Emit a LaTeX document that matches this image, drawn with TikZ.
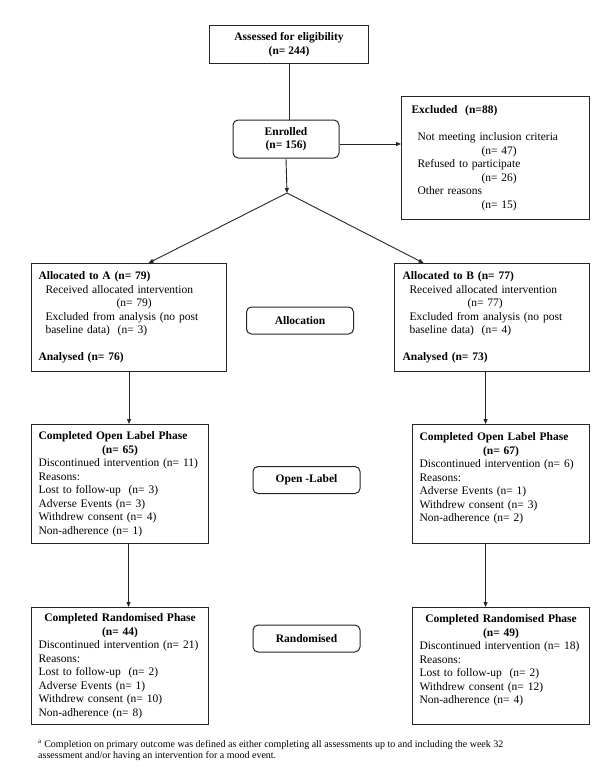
\documentclass[tikz,border=0pt]{standalone}
\usepackage{fontspec}
\setmainfont{Liberation Serif}
\usetikzlibrary{arrows.meta}
\colorlet{line}{black!85}

\begin{document}
\begin{tikzpicture}[x=1pt,y=-1pt,
    font=\fontsize{11.5}{13.5}\selectfont,
    box/.style={draw=line,line width=1.1pt,anchor=north west,inner ysep=0pt,align=left},
    phase/.style={draw=line,line width=1pt,rounded corners=5pt,minimum width=107pt,minimum height=27pt,font=\fontsize{11.5}{13.5}\selectfont\bfseries},
    arrow/.style={draw=line,line width=0.9pt,-{Triangle[length=5pt,width=4pt]}}]

\useasboundingbox [fill=white] (0,0) rectangle (600,776);

\node [box,align=center,inner xsep=0pt,minimum width=159pt,minimum height=38pt,font=\fontsize{11.5}{13.5}\selectfont\bfseries] (assess) at (209,25) {Assessed for eligibility\\(n= 244)};
\node [phase,minimum width=106pt,minimum height=38pt,align=center] (enrol) at (286,139) {Enrolled\\(n= 156)};
\node [box,inner xsep=10pt,text width=168pt,minimum height=123pt] (excl) at (401,96) {\textbf{Excluded~ (n=88)}\\[13.5pt]
    \hspace*{6pt}Not meeting inclusion criteria\\
    \hspace*{70pt}(n= 47)\\
    \hspace*{6pt}Refused to participate\\
    \hspace*{70pt}(n= 26)\\
    \hspace*{6pt}Other reasons\\
    \hspace*{70pt}(n= 15)};
\coordinate (split) at (287,193);

% allocation
\node [box,inner xsep=7pt,text width=181pt,minimum height=108pt] (allocA) at (31,263) {\textbf{Allocated to A (n= 79)}\\
    \hspace*{7pt}Received allocated intervention\\
    \hspace*{78pt}(n= 79)\\
    \hspace*{7pt}Excluded from analysis (no post\\
    \hspace*{7pt}baseline data)~ (n= 3)\\[13.5pt]
    \textbf{Analysed (n= 76)}};
\node [box,inner xsep=8pt,text width=179pt,minimum height=108pt] (allocB) at (394,263) {\textbf{Allocated to B (n= 77)}\\
    \hspace*{7pt}Received allocated intervention\\
    \hspace*{65pt}(n= 77)\\
    \hspace*{7pt}Excluded from analysis (no post\\
    \hspace*{7pt}baseline data)~ (n= 4)\\[13.5pt]
    \textbf{Analysed (n= 73)}};
\node [phase] (allocation) at (300,320.5) {Allocation};

% open label
\node [box,inner xsep=7pt,text width=163pt,minimum height=119pt] (openA) at (31,424) {\textbf{Completed Open Label Phase}\\
    \makebox[\linewidth]{\textbf{(n= 65)}}\\
    Discontinued intervention (n= 11)\\
    Reasons:\\
    Lost to follow-up~ (n= 3)\\
    Adverse Events (n= 3)\\
    Withdrew consent (n= 4)\\
    Non-adherence (n= 1)};
\node [box,inner xsep=7pt,text width=163pt,minimum height=119pt] (openB) at (412,424) {\textbf{Completed Open Label Phase}\\
    \makebox[\linewidth]{\textbf{(n= 67)}}\\
    Discontinued intervention (n= 6)\\
    Reasons:\\
    Adverse Events (n= 1)\\
    Withdrew consent (n= 3)\\
    Non-adherence (n= 2)\\
    \mbox{}};
\node [phase] (openlabel) at (306.5,480) {Open -Label};

% randomised
\node [box,inner xsep=7pt,text width=163pt,minimum height=117pt] (randA) at (31,607) {\makebox[\linewidth]{\textbf{Completed Randomised Phase}}\\
    \makebox[\linewidth]{\textbf{(n= 44)}}\\
    Discontinued intervention (n= 21)\\
    Reasons:\\
    Lost to follow-up~ (n= 2)\\
    Adverse Events (n= 1)\\
    Withdrew consent (n= 10)\\
    Non-adherence (n= 8)};
\node [box,inner xsep=7pt,text width=163pt,minimum height=117pt] (randB) at (412,607) {\makebox[\linewidth]{\textbf{Completed Randomised Phase}}\\
    \makebox[\linewidth]{\textbf{(n= 49)}}\\
    Discontinued intervention (n= 18)\\
    Reasons:\\
    Lost to follow-up~ (n= 2)\\
    Withdrew consent (n= 12)\\
    Non-adherence (n= 4)\\
    \mbox{}};
\node [phase] (randomised) at (306.5,638.5) {Randomised};

\node [anchor=north west,align=left,inner sep=0pt,font=\fontsize{10}{11.5}\selectfont] (note) at (38,740) {\textsuperscript{a} Completion on primary outcome was defined as either completing all assessments up to and including the week 32\\assessment and/or having an intervention for a mood event.};

% connectors
\draw [line,line width=0.9pt] (assess.south) -- (assess.south |- enrol.north);
\draw [arrow] (enrol.south) -- (split);
\draw [arrow] ([yshift=-5pt]enrol.east) -- ([yshift=-5pt]enrol.east -| excl.west);
\draw [arrow] (split) -- ([xshift=19.5pt]allocA.north);
\draw [arrow] (split) -- ([xshift=-68.5pt]allocB.north);
\coordinate (a1) at (allocA.south);
\coordinate (b1) at ([xshift=-6.5pt]allocB.south);
\coordinate (a2) at ([xshift=8.5pt]openA.south);
\coordinate (b2) at ([xshift=-15.5pt]openB.south);
\draw [arrow] (a1) -- (a1 |- openA.north);
\draw [arrow] (b1) -- (b1 |- openB.north);
\draw [arrow] (a2) -- (a2 |- randA.north);
\draw [arrow] (b2) -- (b2 |- randB.north);

\end{tikzpicture}
\end{document}
